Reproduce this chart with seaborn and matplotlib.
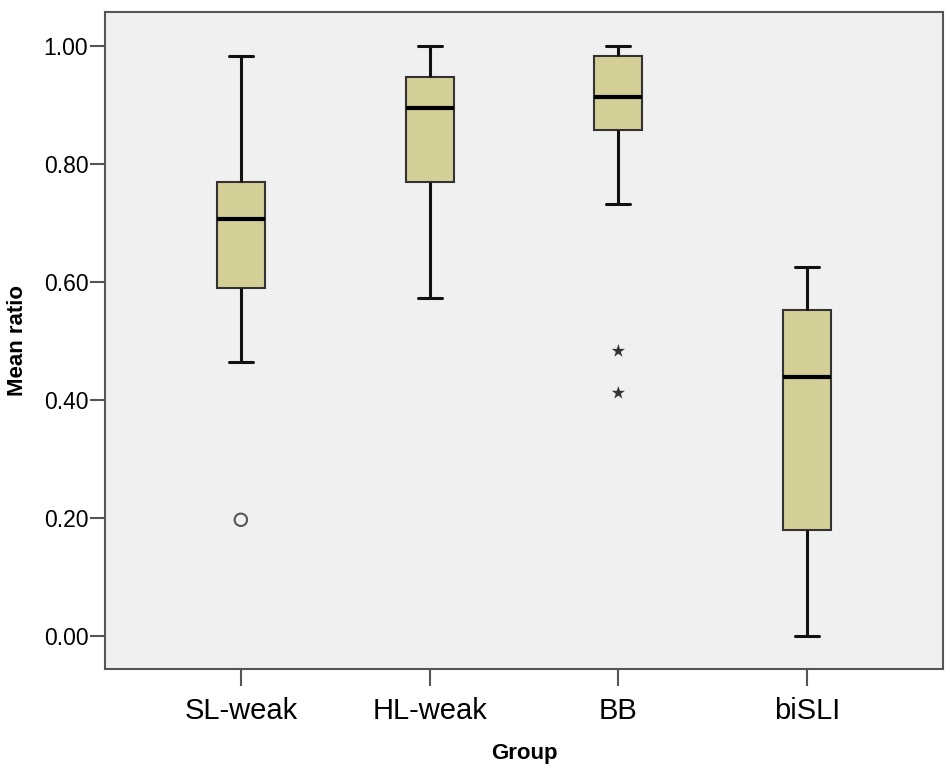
import seaborn as sns
import matplotlib.pyplot as plt
import pandas as pd

# five-number summaries
groups = ["SL-weak", "HL-weak", "BB", "biSLI"]
whis_lo = [0.464, 0.573, 0.732, 0.000]
q1 = [0.590, 0.769, 0.858, 0.180]
median = [0.707, 0.895, 0.913, 0.439]
q3 = [0.769, 0.947, 0.983, 0.553]
whis_hi = [0.983, 1.000, 1.000, 0.625]

# outliers (circle) and extremes (star)
outlier_group = ["SL-weak"]
outlier_val = [0.197]
extreme_group = ["BB", "BB"]
extreme_val = [0.483, 0.412]

yticks = [0.0, 0.2, 0.4, 0.6, 0.8, 1.0]

# five values per group -> linear percentiles land exactly on q1/median/q3
rows = []
for i, g in enumerate(groups):
    for v in [whis_lo[i], q1[i], median[i], q3[i], whis_hi[i]]:
        rows.append({"Group": g, "Mean ratio": v})
df = pd.DataFrame(rows)

sns.set_style("white")
plt.rcParams['font.family'] = ['Liberation Sans', 'DejaVu Sans']
plt.rcParams['text.color'] = 'black'
plt.rcParams['axes.labelcolor'] = 'black'
plt.rcParams['xtick.labelcolor'] = 'black'
plt.rcParams['ytick.labelcolor'] = 'black'

fig = plt.figure(figsize=(9.5, 7.76), dpi=100)
ax = fig.add_axes([0.1105, 0.1379, 0.8821, 0.8466])
ax.set_facecolor("#F0F0F0")

sns.boxplot(data=df, x="Group", y="Mean ratio", order=groups, ax=ax,
            whis=(0, 100), showfliers=False, width=0.254,
            color="#D3CF96", saturation=1,
            boxprops=dict(facecolor="#D3CF96", edgecolor="#333333", linewidth=1.5),
            whiskerprops=dict(color="#111111", linewidth=2.2),
            capprops=dict(color="#111111", linewidth=2.2),
            medianprops=dict(color="#000000", linewidth=3))

sns.scatterplot(x=outlier_group, y=outlier_val, ax=ax, marker="o", s=80,
                facecolor="none", edgecolor="#555555", linewidth=1.5, zorder=5)
sns.scatterplot(x=extreme_group, y=extreme_val, ax=ax, marker="*", s=100,
                color="#333333", edgecolor="none", zorder=5)

ax.set_xlim(-0.72, 3.72)
ax.set_ylim(-0.0559, 1.0576)
ax.set_yticks(yticks)
ax.set_yticklabels([f"{t:.2f}" for t in yticks])
ax.tick_params(axis="y", labelsize=16.5, length=11, width=1.5, color="#555555",
               direction="out", left=True, pad=1)
ax.tick_params(axis="x", labelsize=21, length=12, width=1.5, color="#555555",
               direction="out", bottom=True, pad=8)

for side in ["left", "right", "top", "bottom"]:
    ax.spines[side].set_visible(True)
    ax.spines[side].set_color("#555555")
    ax.spines[side].set_linewidth(1.5)

ax.set_xlabel("Group", fontsize=16, fontweight="bold", labelpad=13)
ax.set_ylabel("Mean ratio", fontsize=16, fontweight="bold", labelpad=11)

fig.savefig("out.png", dpi=100, facecolor="white")
